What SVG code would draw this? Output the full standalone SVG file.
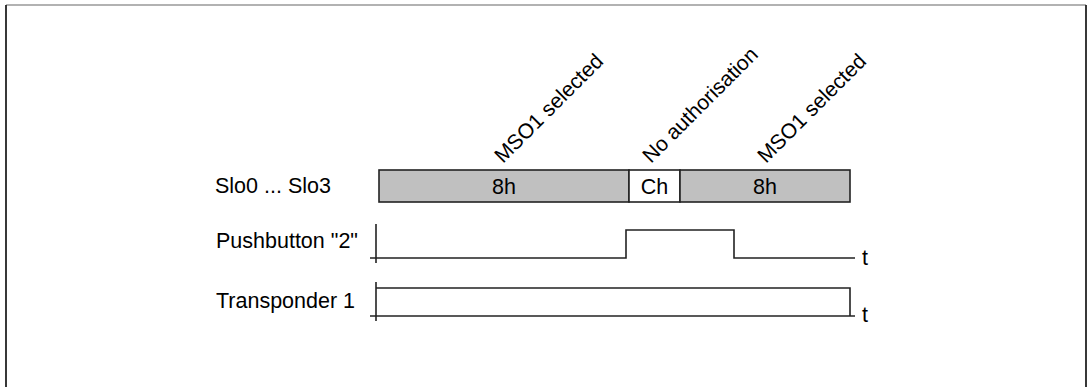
<svg xmlns="http://www.w3.org/2000/svg" width="1088" height="387" viewBox="0 0 1088 387">
<style>
  text { font-family: "Liberation Sans", Arial, sans-serif; font-size: 21.5px; fill: #000; }
  .rot { font-size: 21px; }
  .c { text-anchor: middle; }
  .ln { fill: none; stroke: #222; stroke-width: 1.6; }
  .slot { stroke: #222; stroke-width: 1.6; }
  .g { fill: #c0c0c0; }
  .w { fill: #fff; }
</style>
<rect width="1088" height="387" fill="#fff"/>
<g id="frame">
  <line x1="6" y1="5" x2="1086" y2="5" stroke="#999" stroke-width="1.5"/>
  <line x1="6" y1="5" x2="6" y2="387" stroke="#222" stroke-width="1.8"/>
  <line x1="1086" y1="5" x2="1086" y2="387" stroke="#222" stroke-width="1.8"/>
</g>
<g id="annotations">
  <text class="rot" transform="translate(503,164) rotate(-45)">MSO1 selected</text>
  <text class="rot" transform="translate(651,164) rotate(-45)">No authorisation</text>
  <text class="rot" transform="translate(766,164) rotate(-45)">MSO1 selected</text>
</g>
<g id="labels">
  <text x="215" y="193">Slo0 ... Slo3</text>
  <text x="216" y="248">Pushbutton "2"</text>
  <text x="216" y="308">Transponder 1</text>
  <text x="862" y="265">t</text>
  <text x="862" y="322">t</text>
</g>
<g id="slot-8h-a">
  <rect class="slot g" x="379" y="170" width="250" height="32"/>
  <text class="c" x="504" y="194">8h</text>
</g>
<g id="slot-ch">
  <rect class="slot w" x="629" y="170" width="51" height="32"/>
  <text class="c" x="654.5" y="194">Ch</text>
</g>
<g id="slot-8h-b">
  <rect class="slot g" x="680" y="170" width="170" height="32"/>
  <text class="c" x="765" y="194">8h</text>
</g>
<g id="connectors">
  <line class="ln" x1="376" y1="224" x2="376" y2="263"/>
  <polyline class="ln" points="370,258 626,258 626,230 734,230 734,258 855,258"/>
  <line class="ln" x1="376" y1="282" x2="376" y2="321"/>
  <line class="ln" x1="370" y1="316" x2="855" y2="316"/>
  <polyline class="ln" points="376,288 850,288 850,316"/>
</g>
</svg>
